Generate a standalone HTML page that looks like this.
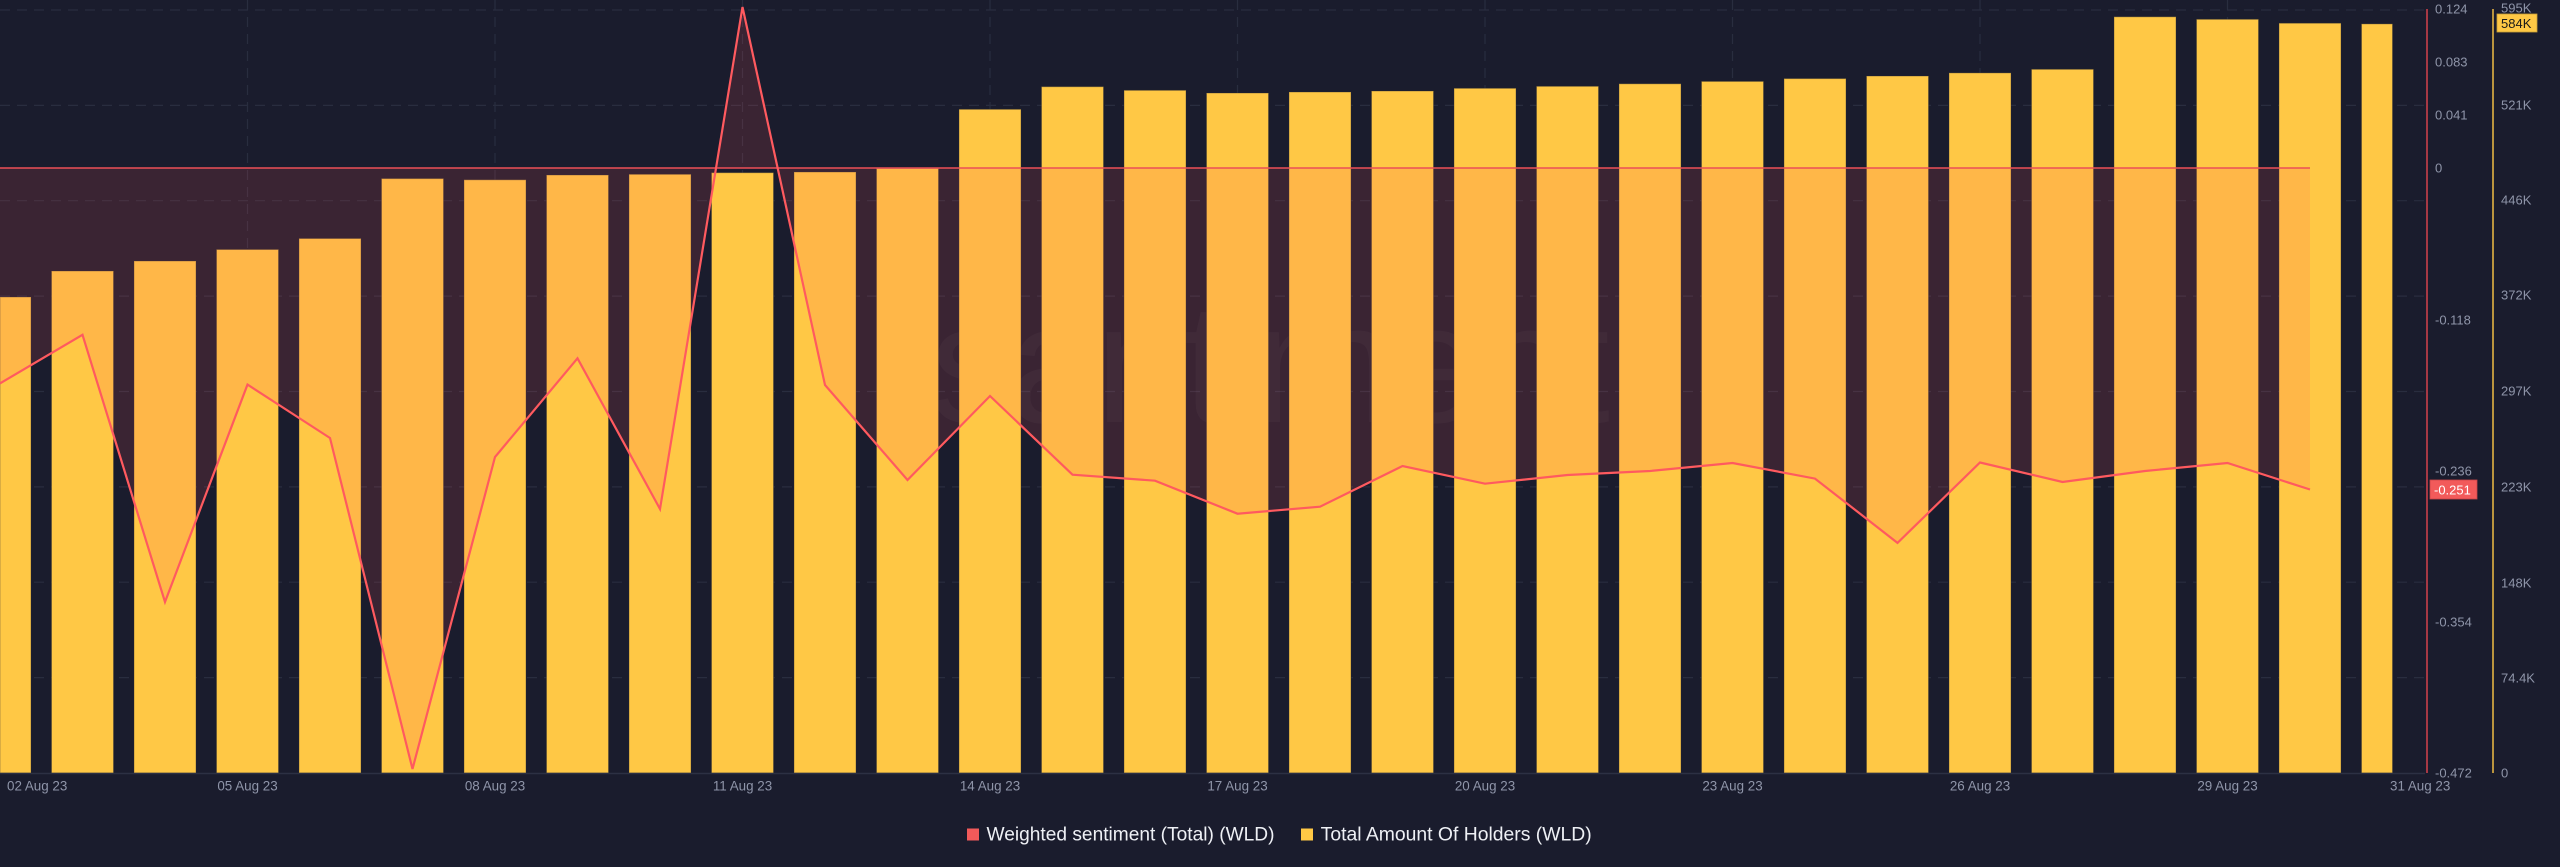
<!DOCTYPE html>
<html>
<head>
<meta charset="utf-8">
<style>
  html, body { margin: 0; padding: 0; background: #1a1c2d; }
  svg { display: block; }
  text { font-family: "Liberation Sans", Arial, sans-serif; }
</style>
</head>
<body>
<svg width="2560" height="867" viewBox="0 0 2560 867" xmlns="http://www.w3.org/2000/svg">
  <rect x="0" y="0" width="2560" height="867" fill="#1a1c2d"/>

  <!-- horizontal dashed grid -->
  <g stroke="#292d3f" stroke-width="1.2" stroke-dasharray="10 7">
    <line x1="0" y1="10" x2="2425" y2="10"/>
    <line x1="0" y1="105.4" x2="2425" y2="105.4"/>
    <line x1="0" y1="200.7" x2="2425" y2="200.7"/>
    <line x1="0" y1="296.1" x2="2425" y2="296.1"/>
    <line x1="0" y1="391.5" x2="2425" y2="391.5"/>
    <line x1="0" y1="486.9" x2="2425" y2="486.9"/>
    <line x1="0" y1="582.2" x2="2425" y2="582.2"/>
    <line x1="0" y1="677.6" x2="2425" y2="677.6"/>
  </g>
  <!-- vertical dashed grid -->
  <g stroke="#292d3f" stroke-width="1.2" stroke-dasharray="10 7">
    <line x1="247.5" y1="0" x2="247.5" y2="773"/>
    <line x1="495" y1="0" x2="495" y2="773"/>
    <line x1="742.5" y1="0" x2="742.5" y2="773"/>
    <line x1="990" y1="0" x2="990" y2="773"/>
    <line x1="1237.5" y1="0" x2="1237.5" y2="773"/>
    <line x1="1485" y1="0" x2="1485" y2="773"/>
    <line x1="1732.5" y1="0" x2="1732.5" y2="773"/>
    <line x1="1980" y1="0" x2="1980" y2="773"/>
    <line x1="2227.5" y1="0" x2="2227.5" y2="773"/>
  </g>

  <!-- watermark -->
  <text x="930" y="422" font-size="170" fill="#ffffff" fill-opacity="0.03" textLength="680" lengthAdjust="spacing">santiment</text>

  <!-- bars -->
  <g fill="#ffc845" stroke="#2a2a32" stroke-opacity="0.35" stroke-width="1">
    <rect x="0" y="297" width="31" height="476"/>
    <rect x="51.5" y="271" width="62" height="502"/>
    <rect x="134" y="261" width="62" height="512"/>
    <rect x="216.5" y="249.5" width="62" height="523.5"/>
    <rect x="299" y="238.5" width="62" height="534.5"/>
    <rect x="381.5" y="178.6" width="62" height="594.4"/>
    <rect x="464" y="179.8" width="62" height="593.2"/>
    <rect x="546.5" y="175" width="62" height="598"/>
    <rect x="629" y="174.3" width="62" height="598.7"/>
    <rect x="711.5" y="172.7" width="62" height="600.3"/>
    <rect x="794" y="172" width="62" height="601"/>
    <rect x="876.5" y="168.5" width="62" height="604.5"/>
    <rect x="959" y="109.3" width="62" height="663.7"/>
    <rect x="1041.5" y="86.7" width="62" height="686.3"/>
    <rect x="1124" y="90.3" width="62" height="682.7"/>
    <rect x="1206.5" y="93" width="62" height="680"/>
    <rect x="1289" y="92" width="62" height="681"/>
    <rect x="1371.5" y="91" width="62" height="682"/>
    <rect x="1454" y="88.3" width="62" height="684.7"/>
    <rect x="1536.5" y="86.3" width="62" height="686.7"/>
    <rect x="1619" y="83.8" width="62" height="689.2"/>
    <rect x="1701.5" y="81.4" width="62" height="691.6"/>
    <rect x="1784" y="78.6" width="62" height="694.4"/>
    <rect x="1866.5" y="76" width="62" height="697"/>
    <rect x="1949" y="72.9" width="62" height="700.1"/>
    <rect x="2031.5" y="69.3" width="62" height="703.7"/>
    <rect x="2114" y="16.8" width="62" height="756.2"/>
    <rect x="2196.5" y="19.3" width="62" height="753.7"/>
    <rect x="2279" y="23.2" width="62" height="749.8"/>
    <rect x="2361.5" y="23.9" width="31" height="749.1"/>
  </g>

  <!-- sentiment area fill -->
  <polygon fill="#ff585a" fill-opacity="0.14"
    points="0,168 0,383.4 82.5,334.8 165,602 247.5,384.6 330,438 412.5,769 495,457 577.5,358.3 660,509 742.5,7 825,385 907.5,480 990,396 1072.5,474.7 1155,480.7 1237.5,513.7 1320,506.7 1402.5,466 1485,483.7 1567.5,475 1650,471 1732.5,463 1815,478.6 1897.5,542.9 1980,462.5 2062.5,482 2145,471 2227.5,463 2310,489.5 2310,168"/>

  <!-- zero line -->
  <line x1="0" y1="168" x2="2310" y2="168" stroke="#ec4f57" stroke-width="1.4"/>

  <!-- sentiment line -->
  <polyline fill="none" stroke="#ff5a5f" stroke-width="2.2" stroke-linejoin="miter"
    points="0,383.4 82.5,334.8 165,602 247.5,384.6 330,438 412.5,769 495,457 577.5,358.3 660,509 742.5,7 825,385 907.5,480 990,396 1072.5,474.7 1155,480.7 1237.5,513.7 1320,506.7 1402.5,466 1485,483.7 1567.5,475 1650,471 1732.5,463 1815,478.6 1897.5,542.9 1980,462.5 2062.5,482 2145,471 2227.5,463 2310,489.5"/>

  <!-- x axis line -->
  <line x1="0" y1="773.5" x2="2425" y2="773.5" stroke="#2c3043" stroke-width="1.5"/>

  <!-- right axes lines -->
  <line x1="2427" y1="9" x2="2427" y2="773" stroke="#e2444e" stroke-width="1.4"/>
  <line x1="2493" y1="9" x2="2493" y2="773" stroke="#ffc845" stroke-width="1.4"/>

  <!-- sentiment axis labels -->
  <g font-size="13" fill="#8f95a9" dominant-baseline="central">
    <text x="2435" y="9">0.124</text>
    <text x="2435" y="62">0.083</text>
    <text x="2435" y="115">0.041</text>
    <text x="2435" y="168">0</text>
    <text x="2435" y="320">-0.118</text>
    <text x="2435" y="471">-0.236</text>
    <text x="2435" y="622">-0.354</text>
    <text x="2435" y="773">-0.472</text>
  </g>
  <!-- holders axis labels -->
  <g font-size="13" fill="#8f95a9" dominant-baseline="central">
    <text x="2501" y="8">595K</text>
    <text x="2501" y="105">521K</text>
    <text x="2501" y="200">446K</text>
    <text x="2501" y="295">372K</text>
    <text x="2501" y="391">297K</text>
    <text x="2501" y="487">223K</text>
    <text x="2501" y="583">148K</text>
    <text x="2501" y="678">74.4K</text>
    <text x="2501" y="773">0</text>
  </g>

  <!-- current value badges -->
  <rect x="2430" y="480" width="47" height="19" fill="#f25a5a" stroke="#c84448" stroke-width="0.8"/>
  <text x="2434" y="490" font-size="13" fill="#ffffff" dominant-baseline="central">-0.251</text>
  <rect x="2497" y="14" width="40" height="18" fill="#ffc845" stroke="#c9a036" stroke-width="0.8"/>
  <text x="2501" y="23.5" font-size="13" fill="#1a1a1a" dominant-baseline="central">584K</text>

  <!-- x axis labels -->
  <g font-size="13.4" fill="#8f95a9" dominant-baseline="central">
    <text x="7" y="786">02 Aug 23</text>
    <text x="247.5" y="786" text-anchor="middle">05 Aug 23</text>
    <text x="495" y="786" text-anchor="middle">08 Aug 23</text>
    <text x="742.5" y="786" text-anchor="middle">11 Aug 23</text>
    <text x="990" y="786" text-anchor="middle">14 Aug 23</text>
    <text x="1237.5" y="786" text-anchor="middle">17 Aug 23</text>
    <text x="1485" y="786" text-anchor="middle">20 Aug 23</text>
    <text x="1732.5" y="786" text-anchor="middle">23 Aug 23</text>
    <text x="1980" y="786" text-anchor="middle">26 Aug 23</text>
    <text x="2227.5" y="786" text-anchor="middle">29 Aug 23</text>
    <text x="2390" y="786">31 Aug 23</text>
  </g>

  <!-- legend -->
  <rect x="967" y="828.5" width="12" height="12" fill="#f25a5a"/>
  <text x="986.5" y="835" font-size="19" fill="#eef0f5" dominant-baseline="central" textLength="288" lengthAdjust="spacingAndGlyphs">Weighted sentiment (Total) (WLD)</text>
  <rect x="1301" y="828.5" width="12" height="12" fill="#ffc845"/>
  <text x="1320.7" y="835" font-size="19" fill="#eef0f5" dominant-baseline="central" textLength="271" lengthAdjust="spacingAndGlyphs">Total Amount Of Holders (WLD)</text>
</svg>
</body>
</html>
